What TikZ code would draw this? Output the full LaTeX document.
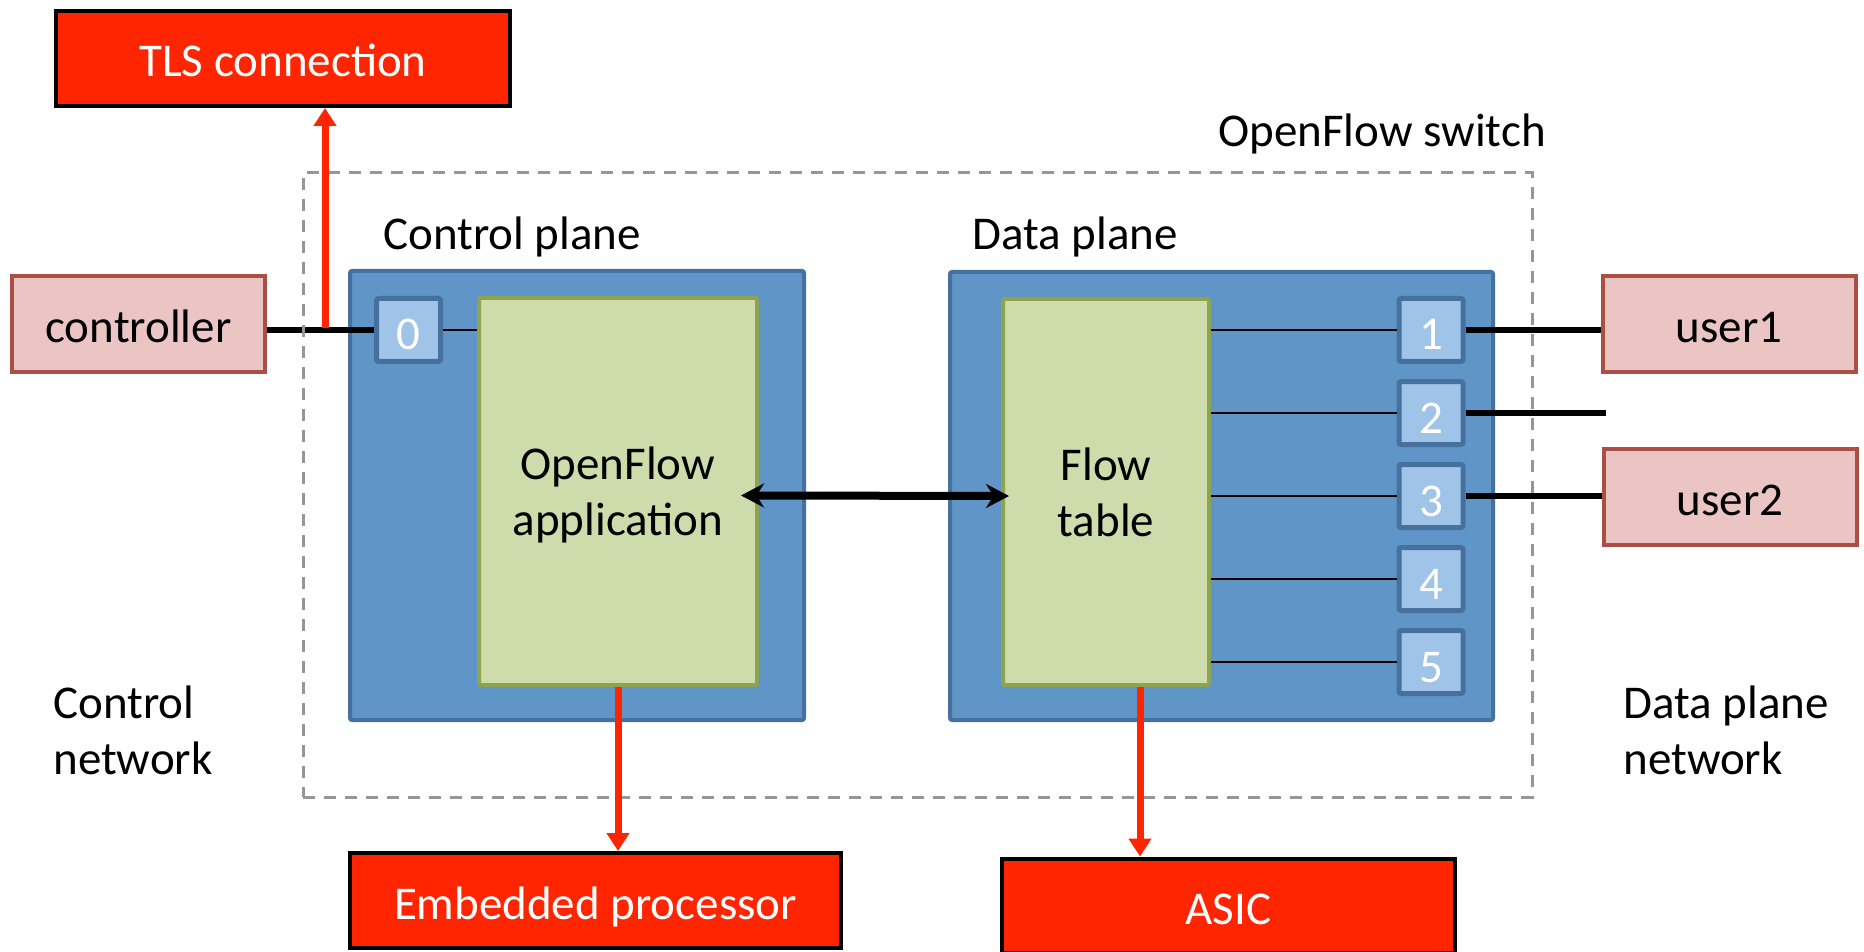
\documentclass[tikz,border=0pt]{standalone}
\usepackage{fontspec}
\setmainfont{Carlito}
\usetikzlibrary{positioning}
\usetikzlibrary{arrows.meta}
\definecolor{ofred}{HTML}{FF2500}
\definecolor{hostfill}{HTML}{EBC5C4}
\definecolor{hostline}{HTML}{AA4E46}
\definecolor{planefill}{HTML}{6095C8}
\definecolor{planeline}{HTML}{46719F}
\definecolor{appfill}{HTML}{CDDCAA}
\definecolor{appline}{HTML}{8CA450}
\definecolor{portfill}{HTML}{A0C3E8}
\definecolor{dashgray}{HTML}{969696}
\tikzset{
    extnode/.style = {rectangle, line width=2.2pt, draw=black, fill=ofred, text=white, minimum height=47.3pt, inner sep=0pt, text height=18.5pt, text depth=0pt},
    hostnode/.style = {rectangle, line width=2pt, draw=hostline, fill=hostfill, text=black, minimum width=126.5pt, minimum height=48pt, inner sep=0pt, text height=18.5pt, text depth=0pt},
    planenode/.style = {rectangle, rounded corners=1pt, line width=2pt, draw=planeline, fill=planefill},
    appnode/.style = {rectangle, rounded corners=1pt, line width=2pt, draw=appline, fill=appfill, align=center, text=black},
    portnode/.style = {rectangle, rounded corners=1pt, line width=2.5pt, draw=planeline, fill=portfill, text=white, minimum width=32pt, minimum height=31.5pt, inner sep=0pt, text height=20pt, text depth=0pt},
    switchbox/.style = {rectangle, draw=dashgray, line width=1.5pt, dash pattern=on 6pt off 4.5pt, minimum width=614.5pt, minimum height=312pt},
    labeln/.style = {inner sep=0pt, align=left},
    linkn/.style = {-, line width=3pt, black},
    linkt/.style = {-, line width=0.85pt, black},
    linkb/.style = {{Stealth[length=11.5pt,width=12pt]}-{Stealth[length=11.5pt,width=12pt]}, line width=4pt, black},
    linkr/.style = {-{Triangle[length=9pt,width=11pt]}, line width=3.5pt, ofred}
}

\begin{document}
\begin{tikzpicture}[x=0.5pt, y=-0.5pt, font=\fontsize{23.5}{28}\selectfont]
\useasboundingbox (0,0) rectangle (1864,952);
\node[planenode, minimum width=227pt, minimum height=224.5pt] at (577, 495.5) (cp) {};
\node[planenode, minimum width=271.5pt, minimum height=224pt] at (1221.5, 496) (dp) {};
\node[appnode, minimum width=139pt, minimum height=193.5pt] at (618, 491.5) (app) {OpenFlow\\\smash{application}};
\node[appnode, minimum width=103pt, minimum height=193pt] at (1106, 492) (flow) {Flow\\table};
\node[portnode] at (408.5, 330) (p0) {0};
\foreach \i/\y in {1/330, 2/413, 3/496, 4/579, 5/662}
    \node[portnode] at (1431, \y) (p\i) {\i};
%
\node[hostnode] at (138.5, 324) (ctrl) {controller};
\node[hostnode] at (1729, 324) (u1) {user1};
\node[hostnode] at (1730, 496.5) (u2) {user2};
\node[extnode, minimum width=226.8pt] at (283, 58.5) (tls) {TLS connection};
\node[extnode, minimum width=245.3pt] at (595.5, 900.5) (emb) {Embedded processor};
\node[extnode, minimum width=226.3pt] at (1228.5, 906) (asic) {ASIC};
%
\node[labeln, anchor=base west] at (1218, 147) (swl) {OpenFlow switch};
\node[labeln, anchor=base west] at (383, 250) (cpl) {Control plane};
\node[labeln, anchor=base west] at (972, 250) (dpl) {Data plane};
\node[labeln, anchor=west] at (53, 730) (cnl) {Control\\network};
\node[labeln, anchor=west] at (1623, 730) (dnl) {Data plane\\network};
%
\coordinate (tap) at (325, 328);
\coordinate (p2end) at (1606, 413);
\draw[linkn] (ctrl.east |- p0) -- (p0.west);
\draw[linkt] (p0.east) -- (p0 -| app.west);
\foreach \i in {1,...,5}
    \draw[linkt] (p\i -| flow.east) -- (p\i.west);
\draw[linkn] (p1.east) -- (p1 -| u1.west);
\draw[linkn] (p2.east) -- (p2end);
\draw[linkn] (p3.east) -- (p3 -| u2.west);
\draw[linkb, shorten <=-9pt, shorten >=-4pt] ([yshift=-2pt]app.east) -- ([yshift=-2pt]flow.west);
%
\node[switchbox] at (917.5, 485) (sw) {};
%
\draw[linkr] (tap) -- (tap |- tls.south);
\draw[linkr] (app.south) -- (app.south |- emb.north);
\draw[linkr] ([xshift=17pt]flow.south) -- ([xshift=17pt]flow.south |- asic.north);

\end{tikzpicture}
\end{document}
